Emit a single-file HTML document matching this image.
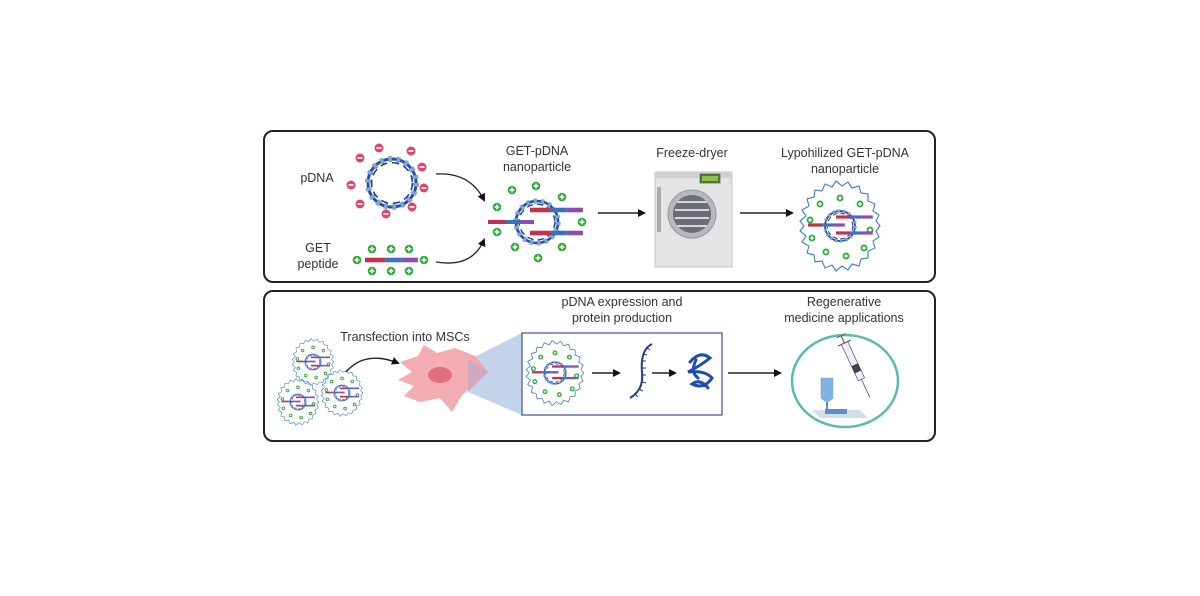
<!DOCTYPE html>
<html><head><meta charset="utf-8"><style>
html,body{margin:0;padding:0;background:#fff;}
svg{display:block;}
text{font-family:"Liberation Sans","DejaVu Sans",sans-serif;font-size:12.5px;fill:#333;text-anchor:middle;}
</style></head><body>
<svg width="1200" height="596" viewBox="0 0 1200 596" xmlns="http://www.w3.org/2000/svg">
<defs>
<marker id="ah" markerWidth="8" markerHeight="8" refX="6" refY="4" orient="auto" markerUnits="userSpaceOnUse"><path d="M0,0 L8,4 L0,8 z" fill="#111"/></marker>
<g id="plus"><circle r="4.3" fill="#2faa3a"/><path d="M-2.4,0H2.4M0,-2.4V2.4" stroke="#fff" stroke-width="1.6"/></g>
<g id="minus"><circle r="4.5" fill="#d9496b"/><path d="M-2.5,0H2.5" stroke="#fff" stroke-width="1.6"/></g>
<g id="ring">
<circle r="20" fill="none" stroke="#2a4f9a" stroke-width="2.5"/>
<circle r="20" fill="none" stroke="#7fa6d8" stroke-width="5" stroke-dasharray="3 4"/>
<circle r="17" fill="none" stroke="#1f3f86" stroke-width="1.3" stroke-dasharray="6 4"/>
</g>
<g id="bar"><rect x="0" y="-2" width="18" height="4" fill="#c0334a"/><rect x="18" y="-2" width="14" height="4" fill="#3c6fc4"/><rect x="32" y="-2" width="14" height="4" fill="#8a4db0"/></g>
<g id="wavy"><path d="M40,0 L36,5 L39,11 L33,15 L35,22 L28,25 L28,32 L21,33 L19,40 L12,38 L8,44 L2,40 L-4,45 L-8,39 L-15,42 L-18,35 L-25,36 L-26,29 L-33,27 L-31,20 L-38,16 L-34,10 L-40,5 L-36,0 L-40,-5 L-34,-10 L-38,-16 L-31,-20 L-33,-27 L-26,-29 L-25,-36 L-18,-35 L-15,-42 L-8,-39 L-4,-45 L2,-40 L8,-44 L12,-38 L19,-40 L21,-33 L28,-32 L28,-25 L35,-22 L33,-15 L39,-11 L36,-5 Z" fill="none" stroke="#4a86c0" stroke-width="1.2" stroke-linejoin="round"/></g>
<g id="lyo">
<use href="#wavy"/>
<use href="#plus" transform="translate(-20,-22) scale(.8)"/><use href="#plus" transform="translate(0,-28) scale(.8)"/><use href="#plus" transform="translate(20,-22) scale(.8)"/>
<use href="#plus" transform="translate(-30,-6) scale(.8)"/><use href="#plus" transform="translate(-28,12) scale(.8)"/><use href="#plus" transform="translate(30,4) scale(.8)"/>
<use href="#plus" transform="translate(-14,26) scale(.8)"/><use href="#plus" transform="translate(6,30) scale(.8)"/><use href="#plus" transform="translate(24,22) scale(.8)"/>
<use href="#ring" transform="scale(.75)"/>
<use href="#bar" transform="translate(-32,-1) scale(.8)"/><use href="#bar" transform="translate(-4,-9) scale(.8)"/><use href="#bar" transform="translate(-4,7) scale(.8)"/>
</g>
</defs>

<!-- panels -->
<rect x="264" y="131" width="671" height="151" rx="9" fill="#fff" stroke="#222" stroke-width="2"/>
<rect x="264" y="291" width="671" height="150" rx="9" fill="#fff" stroke="#222" stroke-width="2"/>

<!-- top panel -->
<text x="317" y="182">pDNA</text>
<text x="318" y="252">GET</text>
<text x="318" y="268">peptide</text>
<use href="#ring" transform="translate(392,183) scale(1.2)"/>
<use href="#minus" transform="translate(379,148)"/><use href="#minus" transform="translate(411,151)"/><use href="#minus" transform="translate(422,167)"/>
<use href="#minus" transform="translate(424,188)"/><use href="#minus" transform="translate(412,207)"/><use href="#minus" transform="translate(386,214)"/>
<use href="#minus" transform="translate(360,204)"/><use href="#minus" transform="translate(351,185)"/><use href="#minus" transform="translate(360,158)"/>
<use href="#bar" transform="translate(365,260) scale(1.15)"/>
<use href="#plus" transform="translate(357,260)"/><use href="#plus" transform="translate(424,260)"/>
<use href="#plus" transform="translate(372,249)"/><use href="#plus" transform="translate(391,249)"/><use href="#plus" transform="translate(409,249)"/>
<use href="#plus" transform="translate(372,271)"/><use href="#plus" transform="translate(391,271)"/><use href="#plus" transform="translate(409,271)"/>
<path d="M436,174 Q470,172 484,200" fill="none" stroke="#222" stroke-width="1.3" marker-end="url(#ah)"/>
<path d="M436,262 Q472,268 484,240" fill="none" stroke="#222" stroke-width="1.3" marker-end="url(#ah)"/>

<text x="537" y="155">GET-pDNA</text>
<text x="537" y="171">nanoparticle</text>
<use href="#ring" transform="translate(537,222) scale(1.05)"/>
<use href="#bar" transform="translate(488,222) scale(1.0)"/><use href="#bar" transform="translate(530,210) scale(1.15)"/><use href="#bar" transform="translate(530,233) scale(1.15)"/>
<use href="#plus" transform="translate(512,190)"/><use href="#plus" transform="translate(536,186)"/><use href="#plus" transform="translate(562,197)"/>
<use href="#plus" transform="translate(497,207)"/><use href="#plus" transform="translate(497,232)"/><use href="#plus" transform="translate(582,222)"/>
<use href="#plus" transform="translate(515,247)"/><use href="#plus" transform="translate(538,258)"/><use href="#plus" transform="translate(562,247)"/>
<path d="M598,213 L644,213" stroke="#222" stroke-width="1.6" marker-end="url(#ah)"/>

<text x="692" y="157">Freeze-dryer</text>
<rect x="655" y="172" width="77" height="95" fill="#e4e4e6" stroke="#c4c4c8"/>
<rect x="655" y="172" width="77" height="6" fill="#d0d0d4"/>
<rect x="700" y="174" width="20" height="9" fill="#4c7a30" stroke="#666" stroke-width=".8"/>
<rect x="702" y="176" width="16" height="5" fill="#8fc050"/>
<rect x="657" y="187" width="4" height="45" fill="#aaa"/>
<circle cx="692" cy="214" r="24" fill="#b8b8bc" stroke="#999"/>
<circle cx="692" cy="214" r="19" fill="#6b6f75"/>
<path d="M677,202H707M675,210H709M675,218H709M677,226H707" stroke="#d8d8dc" stroke-width="2"/>
<path d="M740,213 L792,213" stroke="#222" stroke-width="1.6" marker-end="url(#ah)"/>

<text x="845" y="157">Lypohilized GET-pDNA</text>
<text x="845" y="173">nanoparticle</text>
<use href="#lyo" transform="translate(840,226)"/>

<!-- bottom panel -->
<use href="#lyo" transform="translate(313,362) scale(.52)"/>
<use href="#lyo" transform="translate(298,402) scale(.52)"/>
<use href="#lyo" transform="translate(342,393) scale(.52)"/>
<text x="405" y="341">Transfection into MSCs</text>
<path d="M346,372 Q365,350 398,363" fill="none" stroke="#222" stroke-width="1.4" marker-end="url(#ah)"/>
<path d="M468,360 L522,333 L522,415 L468,392 Z" fill="#b8cde6" opacity=".85"/>
<path d="M400,362 L418,356 L424,345 L437,353 L455,348 L475,356 L488,372 L476,384 L462,395 L452,412 L440,398 L420,402 L404,396 L414,386 L398,380 L412,372 Z" fill="#f2a3a8" opacity=".9"/>
<ellipse cx="440" cy="375" rx="12" ry="8" fill="#e0707a"/>
<path d="M468,360 L488,372 L476,384 L468,392 Z" fill="#c4a8c8" opacity=".7"/>

<text x="622" y="306">pDNA expression and</text>
<text x="622" y="322">protein production</text>
<rect x="522" y="333" width="200" height="82" fill="#fff" stroke="#4a5fa0" stroke-width="1.3"/>
<use href="#lyo" transform="translate(555,373) scale(.72)"/>
<path d="M592,373 L619,373" stroke="#222" stroke-width="1.4" marker-end="url(#ah)"/>
<path d="M652,344 Q640,350 642,372 Q644,390 630,398" fill="none" stroke="#1f3f86" stroke-width="2"/>
<path d="M646,347l4,3M643,354l4,1M642,361l4,0M642,368l4,0M642,375l4,0M642,382l4,1M639,389l4,2M635,394l3,3" stroke="#1f3f86" stroke-width="1"/>
<path d="M652,373 L675,373" stroke="#222" stroke-width="1.4" marker-end="url(#ah)"/>
<path d="M690,362 Q700,350 710,358 Q700,366 688,372 Q705,370 712,378 Q704,390 692,384 Q700,378 708,388 M696,360 Q690,372 698,378" fill="none" stroke="#1d4fa8" stroke-width="3" stroke-linecap="round"/>
<path d="M728,373 L780,373" stroke="#222" stroke-width="1.6" marker-end="url(#ah)"/>

<text x="844" y="306">Regenerative</text>
<text x="844" y="322">medicine applications</text>
<ellipse cx="845" cy="381" rx="53" ry="46" fill="#fff" stroke="#5fb8b0" stroke-width="2.5"/>
<path d="M812,410 L860,410 L868,418 L820,418 Z" fill="#d6dde6"/>
<rect x="825" y="409" width="22" height="5" fill="#5a8fd0"/>
<path d="M821,378 L833,378 L833,398 L828,402 L826,402 L821,398 Z" fill="#7fb2e6" stroke="#8aa" stroke-width=".6"/>
<rect x="826" y="402" width="2" height="8" fill="#5a8fd0"/>
<g transform="translate(858,372) rotate(-25)">
<rect x="-3.5" y="-32" width="7" height="40" fill="#eef" stroke="#666" stroke-width=".8"/>
<rect x="-3.5" y="-8" width="7" height="8" fill="#444"/>
<path d="M-7,-32H7M0,-32V-40M-5,-40H5" stroke="#666" stroke-width="1.2"/>
<path d="M0,8V28" stroke="#666" stroke-width=".9"/>
</g>
</svg>
</body></html>
